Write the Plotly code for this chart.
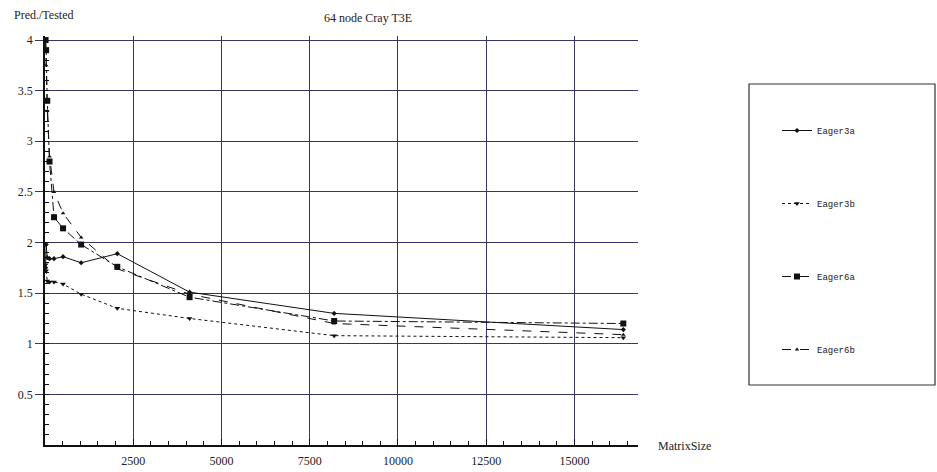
import plotly.graph_objects as go

matrix_sizes = [16, 32, 64, 128, 256, 512, 1024, 2048, 4096, 8192, 16384]
eager3a = [1.75, 1.98, 1.85, 1.84, 1.84, 1.86, 1.80, 1.89, 1.51, 1.30, 1.14]
eager3b = [1.78, 1.72, 1.62, 1.61, 1.61, 1.59, 1.49, 1.35, 1.25, 1.08, 1.06]
eager6a = [4.00, 3.90, 3.40, 2.80, 2.25, 2.14, 1.98, 1.76, 1.46, 1.225, 1.20]
eager6b = [4.00, 3.75, 3.30, 2.85, 2.50, 2.29, 2.05, 1.74, 1.49, 1.20, 1.09]

x_ticks = [2500, 5000, 7500, 10000, 12500, 15000]
y_ticks = [0.5, 1, 1.5, 2, 2.5, 3, 3.5, 4]

series = [
    ("Eager3a", eager3a, "solid", "diamond", 4),
    ("Eager3b", eager3b, "dot", "triangle-down", 5),
    ("Eager6a", eager6a, "dashdot", "square", 6),
    ("Eager6b", eager6b, "dash", "triangle-up", 4),
]

fig = go.Figure()
for i, (name, vals, dash, sym, ms) in enumerate(series):
    fig.add_trace(go.Scatter(
        x=matrix_sizes, y=vals, name=name, mode="lines+markers",
        line=dict(color="#111111", width=1, dash=dash),
        marker=dict(symbol=sym, size=ms, color="#111111"),
        legendgroup=f"g{i}",
    ))

grid = "#363662"
serif = "Liberation Serif, Times New Roman, Times, serif"
mono = "Liberation Mono, Courier New, monospace"

# plot area pixel geometry
L, R, T, B = 45, 638, 36, 445
W, H = 937, 472

def px_x(p):
    return (p - L) / (R - L)

def px_y(p):
    return (B - p) / (B - T)

fig.update_layout(
    width=W, height=H,
    margin=dict(l=L, r=W - R, t=T, b=H - B, autoexpand=False),
    paper_bgcolor="white", plot_bgcolor="white",
    font=dict(family=serif, size=12, color="#222222"),
    showlegend=True,
    legend=dict(
        x=px_x(777), y=px_y(116), xanchor="left", yanchor="top",
        font=dict(family=mono, size=9, color="#222222"),
        tracegroupgap=54, bgcolor="rgba(0,0,0,0)", borderwidth=0,
    ),
    xaxis=dict(
        range=[0, 16800], tickvals=x_ticks, ticktext=[str(v) for v in x_ticks],
        showgrid=True, gridcolor=grid, gridwidth=1.4,
        showline=True, linecolor="#111111", linewidth=1.5,
        ticks="inside", ticklen=6, tickcolor="#111111",
        ticklabelstandoff=4, automargin=False,
        minor=dict(dtick=500, ticks="inside", ticklen=4, tickcolor="#111111", showgrid=False),
        zeroline=False, tickfont=dict(family=serif, size=12),
    ),
    yaxis=dict(
        range=[0, 4.04], tickvals=y_ticks, ticktext=["0.5", "1", "1.5", "2", "2.5", "3", "3.5", "4"],
        showgrid=True, gridcolor=grid, gridwidth=1.4,
        showline=True, linecolor="#111111", linewidth=1.5,
        ticks="outside", ticklen=8, tickcolor=grid, tickwidth=1.4, automargin=False,
        minor=dict(dtick=0.1, ticks="inside", ticklen=4, tickcolor="#111111", showgrid=False),
        zeroline=False, tickfont=dict(family=serif, size=12),
    ),
    annotations=[
        dict(text="64 node Cray T3E", xref="paper", yref="paper",
             x=px_x(368), y=px_y(18), xanchor="center", yanchor="middle",
             showarrow=False, font=dict(family=serif, size=12)),
        dict(text="Pred./Tested", xref="paper", yref="paper",
             x=px_x(12), y=px_y(15), xanchor="left", yanchor="middle",
             showarrow=False, font=dict(family=serif, size=12)),
        dict(text="MatrixSize", xref="paper", yref="paper",
             x=px_x(656), y=px_y(446), xanchor="left", yanchor="middle",
             showarrow=False, font=dict(family=serif, size=12)),
    ],
    shapes=[
        dict(type="rect", xref="paper", yref="paper",
             x0=px_x(749), x1=px_x(935), y0=px_y(385), y1=px_y(84),
             line=dict(color="#333333", width=1.2), fillcolor="rgba(0,0,0,0)"),
    ],
)

fig.write_html("out.html")
